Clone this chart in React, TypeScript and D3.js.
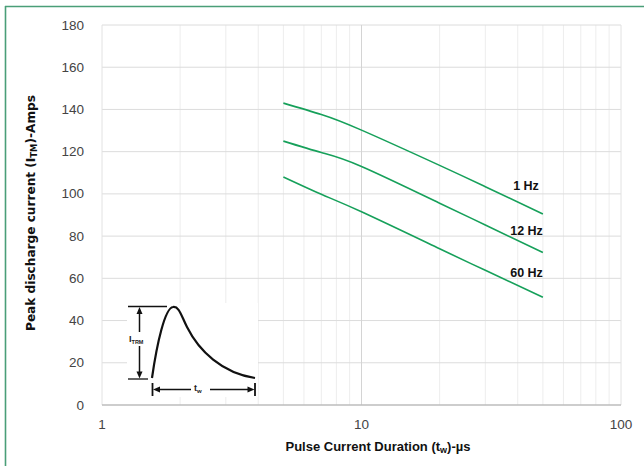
import React from 'react';
import { scaleLog, scaleLinear, line, curveNatural, range } from 'd3';

// pulse width (us) and peak current (A)
const durations = [5, 7, 10, 20, 30, 50];
const amps1Hz = [143, 137.6, 130.2, 113.5, 103.4, 90.5];
const amps12Hz = [125, 119.6, 113, 95.6, 85.3, 72.2];
const amps60Hz = [108, 99.8, 91.5, 74, 63.8, 51];

const seriesNames = ['1 Hz', '12 Hz', '60 Hz'];
const seriesValues = [amps1Hz, amps12Hz, amps60Hz];
// label offsets above each line end (in amps) and nudge left (px)
const labelLift = [11.3, 8.1, 9.4];
const labelNudge = [4, 0, 0];

const xTicks = [1, 10, 100];
const yTicks = [0, 20, 40, 60, 80, 100, 120, 140, 160, 180];

const W = 644;
const H = 466;
const green = '#16a05a';
const frame = '#4a9e78';
const tickFont = '"Liberation Sans", Arial, sans-serif';

function App() {
  const x = scaleLog().domain([1, 100]).range([102, 621]);
  const y = scaleLinear().domain([0, 180]).range([405, 25]);

  const minor: number[] = [];
  [1, 10].forEach(d => range(2, 10).forEach(k => minor.push(d * k)));

  const mkLine = line<[number, number]>()
    .x(d => x(d[0]))
    .y(d => y(d[1]))
    .curve(curveNatural);

  // decorative pulse sketch in the lower-left corner, local coords
  const ix = 127, iy = 303;
  const pulse = 'M25,75 C30,40 38,5 46,4 C52,3 54,12 60,24 C72,48 95,70 128,75';

  return (
    <svg width={W} height={H} style={{ position: 'absolute', left: 0, top: 0, background: '#fff' }}>
      <rect x={0} y={0} width={W} height={H} fill="#fff" />
      <line x1={5} x2={W} y1={6.5} y2={6.5} stroke={frame} strokeWidth={1.6} />
      <line x1={5.5} x2={5.5} y1={6} y2={H} stroke={frame} strokeWidth={1.6} />

      {minor.map(v => (
        <line key={'m' + v} x1={x(v)} x2={x(v)} y1={y(180)} y2={y(0)} stroke="#ededed" strokeWidth={1} />
      ))}
      {yTicks.filter(v => v > 0).map(v => (
        <line key={'h' + v} x1={x(1)} x2={x(100)} y1={y(v)} y2={y(v)} stroke="#dcdcdc" strokeWidth={1} />
      ))}
      {xTicks.map(v => (
        <line key={'v' + v} x1={x(v)} x2={x(v)} y1={y(180)} y2={y(0)} stroke={v === 10 ? '#d4d4d4' : '#e2e2e2'} strokeWidth={1} />
      ))}
      <line x1={x(1)} x2={x(100)} y1={y(0)} y2={y(0)} stroke="#bdbdbd" strokeWidth={1.6} />

      {yTicks.map(v => (
        <text key={'yt' + v} x={84} y={y(v) + 4.5} textAnchor="end" fontSize={13.5} fill="#444" fontFamily={tickFont}>{v}</text>
      ))}
      {xTicks.map(v => (
        <text key={'xt' + v} x={x(v)} y={428.5} textAnchor="middle" fontSize={13.5} fill="#444" fontFamily={tickFont}>{v}</text>
      ))}

      {seriesValues.map((vals, i) => {
        const pts = durations.map((d, j) => [d, vals[j]] as [number, number]);
        const last = pts[pts.length - 1];
        return (
          <g key={seriesNames[i]}>
            <path d={mkLine(pts) || ''} fill="none" stroke={green} strokeWidth={1.6} />
            <text x={x(last[0]) - labelNudge[i]} y={y(last[1] + labelLift[i])} textAnchor="end" fontSize={12.5} fontWeight="bold" fill="#111" fontFamily={tickFont}>{seriesNames[i]}</text>
          </g>
        );
      })}

      {/* pulse shape illustration */}
      <g transform={`translate(${ix},${iy})`}>
        <rect x={0} y={0} width={131} height={94} fill="#fff" />
        <path d={pulse} fill="none" stroke="#111" strokeWidth={2.2} />
        <line x1={1} x2={40} y1={3.5} y2={3.5} stroke="#111" strokeWidth={1.3} />
        <line x1={1} x2={21} y1={76} y2={76} stroke="#111" strokeWidth={1.3} />
        <line x1={12.5} x2={12.5} y1={9} y2={70} stroke="#111" strokeWidth={1.5} />
        <path d="M12.5,4 L9.5,11 L15.5,11 Z" fill="#111" />
        <path d="M12.5,75.5 L9.5,68.5 L15.5,68.5 Z" fill="#111" />
        <rect x={1} y={29} width={22} height={14} fill="#fff" />
        <text x={2} y={39} fontSize={9} fontWeight="bold" fill="#222" fontFamily={tickFont}>I<tspan fontSize={5.5} dy={2}>TRM</tspan></text>
        <line x1={25.5} x2={25.5} y1={80} y2={93} stroke="#111" strokeWidth={1.8} />
        <line x1={128} x2={128} y1={80} y2={93} stroke="#111" strokeWidth={1.8} />
        <line x1={30} x2={64} y1={86.5} y2={86.5} stroke="#111" strokeWidth={1.3} />
        <line x1={83} x2={124} y1={86.5} y2={86.5} stroke="#111" strokeWidth={1.3} />
        <path d="M26,86.5 L33,83.5 L33,89.5 Z" fill="#111" />
        <path d="M127.5,86.5 L120.5,83.5 L120.5,89.5 Z" fill="#111" />
        <text x={67} y={88} fontSize={9} fontWeight="bold" fill="#222" fontFamily={tickFont}>t<tspan fontSize={6} dy={2}>w</tspan></text>
      </g>

      <text
        transform={`translate(35,${y(90) - 2}) rotate(-90)`}
        textAnchor="middle"
        fontSize={11.5}
        fontWeight="bold"
        fill="#111"
        fontFamily='"DejaVu Sans Condensed", "Liberation Sans Narrow", "Liberation Sans", sans-serif'
        textLength={236}
        lengthAdjust="spacingAndGlyphs"
      >
        Peak discharge current (I<tspan fontSize={8} dy={2}>TM</tspan><tspan dy={-2}>)-Amps</tspan>
      </text>
      <text x={378} y={451} textAnchor="middle" fontSize={13} fontWeight="bold" fill="#111" fontFamily={tickFont}>
        Pulse Current Duration (t<tspan fontSize={9} dy={2}>w</tspan><tspan dy={-2}>)-µs</tspan>
      </text>
    </svg>
  );
}

export default App;
